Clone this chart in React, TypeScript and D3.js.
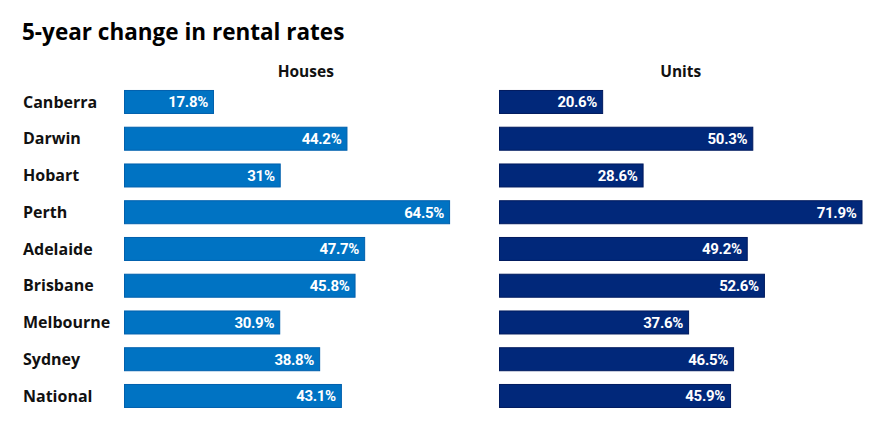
import React from "react";
import * as d3 from "d3";

const cities = ["Canberra", "Darwin", "Hobart", "Perth", "Adelaide", "Brisbane", "Melbourne", "Sydney", "National"];
const housesChange = [17.8, 44.2, 31, 64.5, 47.7, 45.8, 30.9, 38.8, 43.1];
const unitsChange = [20.6, 50.3, 28.6, 71.9, 49.2, 52.6, 37.6, 46.5, 45.9];
const panelTitles = ["Houses", "Units"];

const W = 873;
const H = 440;
const TEXT_FONT = "'Open Sans', 'Noto Sans', sans-serif";
const VALUE_FONT = "Roboto, 'Noto Sans', sans-serif";

const panels = [
  { title: panelTitles[0], values: housesChange, x0: 124, fill: "#0073c3", stroke: "#0060ad" },
  { title: panelTitles[1], values: unitsChange, x0: 499, fill: "#01287a", stroke: "#001a5e" },
];

const panelWidth = 363.5;
const maxValue = d3.max([...housesChange, ...unitsChange]) as number;
const x = d3.scaleLinear().domain([0, maxValue]).range([0, panelWidth]);

const y = d3
  .scaleBand<string>()
  .domain(cities)
  .range([83.6, 83.6 + 36.75 * cities.length])
  .paddingInner(0.347)
  .paddingOuter(0.1735);

const fmt = (v: number) => `${v}%`;

export default function App() {
  return (
    <svg
      width={W}
      height={H}
      viewBox={`0 0 ${W} ${H}`}
      style={{ position: "absolute", left: 0, top: 0, background: "#fff" }}
    >
      <text x={22} y={40} fontFamily={TEXT_FONT} fontSize={22.5} fontWeight={700} fill="#000">
        5-year change in rental rates
      </text>

      {cities.map((c) => (
        <text
          key={c}
          x={23}
          y={(y(c) as number) + y.bandwidth() / 2}
          dy="0.36em"
          fontFamily={TEXT_FONT}
          fontSize={16}
          fontWeight={700}
          fill="#111"
        >
          {c}
        </text>
      ))}

      {panels.map((p) => (
        <g key={p.title} transform={`translate(${p.x0},0)`}>
          <text
            x={panelWidth / 2}
            y={77}
            textAnchor="middle"
            fontFamily={TEXT_FONT}
            fontSize={15.5}
            fontWeight={700}
            fill="#111"
          >
            {p.title}
          </text>
          {cities.map((c, i) => {
            const v = p.values[i];
            const by = y(c) as number;
            const bw = x(v);
            return (
              <g key={c}>
                <rect
                  x={0.5}
                  y={by + 0.5}
                  width={bw - 1}
                  height={y.bandwidth() - 1}
                  fill={p.fill}
                  stroke={p.stroke}
                  strokeWidth={1}
                />
                <text
                  x={bw - 6}
                  y={by + y.bandwidth() / 2}
                  dy="0.36em"
                  textAnchor="end"
                  fontFamily={VALUE_FONT}
                  fontSize={15}
                  fontWeight={700}
                  fill="#fff"
                  letterSpacing={-0.3}
                >
                  {fmt(v)}
                </text>
              </g>
            );
          })}
        </g>
      ))}
    </svg>
  );
}
